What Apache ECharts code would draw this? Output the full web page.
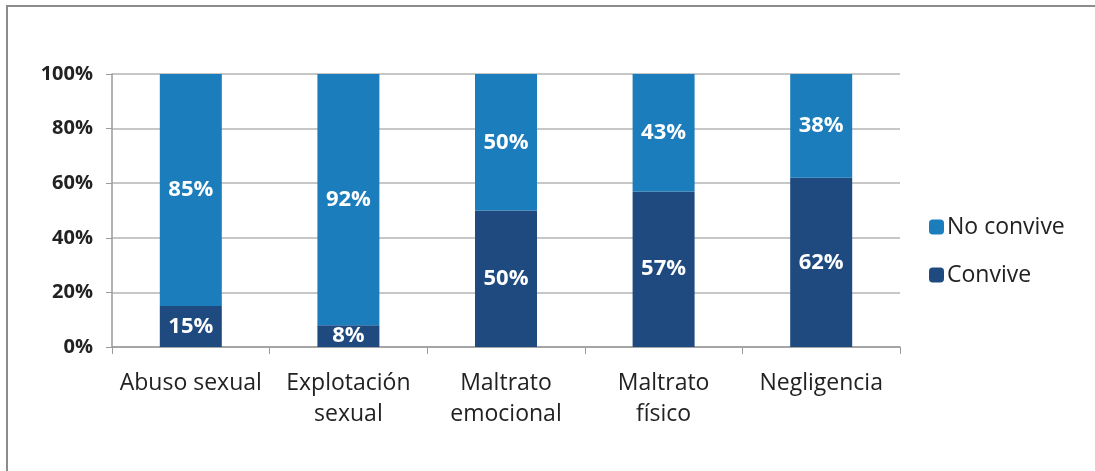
<!DOCTYPE html>
<html>
<head>
<meta charset="utf-8">
<script src="https://cdn.jsdelivr.net/npm/echarts@6/dist/echarts.min.js"></script>
<style>
  html, body { margin: 0; padding: 0; background: #fff; }
  #frame {
    position: absolute; left: 6px; top: 5px; width: 1089px; height: 466px;
    border-left: 2px solid #8c8c8c; border-top: 2px solid #8c8c8c; box-sizing: border-box;
  }
  #chart { position: absolute; left: 0; top: 0; width: 1095px; height: 471px; }
</style>
</head>
<body>
<div id="frame"></div>
<div id="chart"></div>
<script>
  // categorias
  var categories = ['Abuso sexual', 'Explotación\nsexual', 'Maltrato\nemocional', 'Maltrato\nfísico', 'Negligencia']
  // porcentajes
  var convive = [15, 8, 50, 57, 62]
  var noConvive = [85, 92, 50, 43, 38]

  var chart = echarts.init(document.getElementById('chart'))
  var labelStyle = {
    show: true,
    position: 'inside',
    color: '#fff',
    fontWeight: 'bold',
    fontSize: 22,
    fontFamily: 'Open Sans',
    formatter: '{c}%'
  }
  var option = {
    animation: false,
    grid: { left: 112, top: 74, width: 788, height: 273 },
    legend: {
      data: ['No convive', 'Convive'],
      orient: 'vertical',
      left: 924,
      top: 209,
      itemWidth: 15,
      itemHeight: 15,
      itemGap: 22,
      textStyle: { fontSize: 23, lineHeight: 26, color: '#222', fontFamily: 'Open Sans', padding: [0, 0, 0, -2] }
    },
    xAxis: {
      type: 'category',
      data: categories,
      axisLine: { lineStyle: { color: '#9a9a9a', width: 1.5 } },
      axisTick: { show: true, length: 7, lineStyle: { color: '#9a9a9a' } },
      axisLabel: { interval: 0, hideOverlap: false, color: '#222', fontSize: 23, lineHeight: 31, margin: 21, fontFamily: 'Open Sans' }
    },
    yAxis: {
      type: 'value',
      min: 0,
      max: 100,
      interval: 20,
      axisLine: { show: true, lineStyle: { color: '#9a9a9a', width: 1.5 } },
      axisTick: { show: true, length: 6, lineStyle: { color: '#9a9a9a' } },
      axisLabel: { formatter: '{value}%', color: '#222', fontSize: 20, fontWeight: 'bold', margin: 19, fontFamily: 'Open Sans' },
      splitLine: { lineStyle: { color: '#b4b4b4', width: 1.5 } }
    },
    series: [
      {
        name: 'Convive',
        type: 'bar',
        stack: 'total',
        barWidth: 62,
        data: convive,
        itemStyle: { color: '#1f4a80' },
        label: labelStyle
      },
      {
        name: 'No convive',
        type: 'bar',
        stack: 'total',
        barWidth: 62,
        data: noConvive,
        itemStyle: { color: '#1b7dbc' },
        label: labelStyle
      }
    ]
  }
  chart.setOption(option)
</script>
</body>
</html>
